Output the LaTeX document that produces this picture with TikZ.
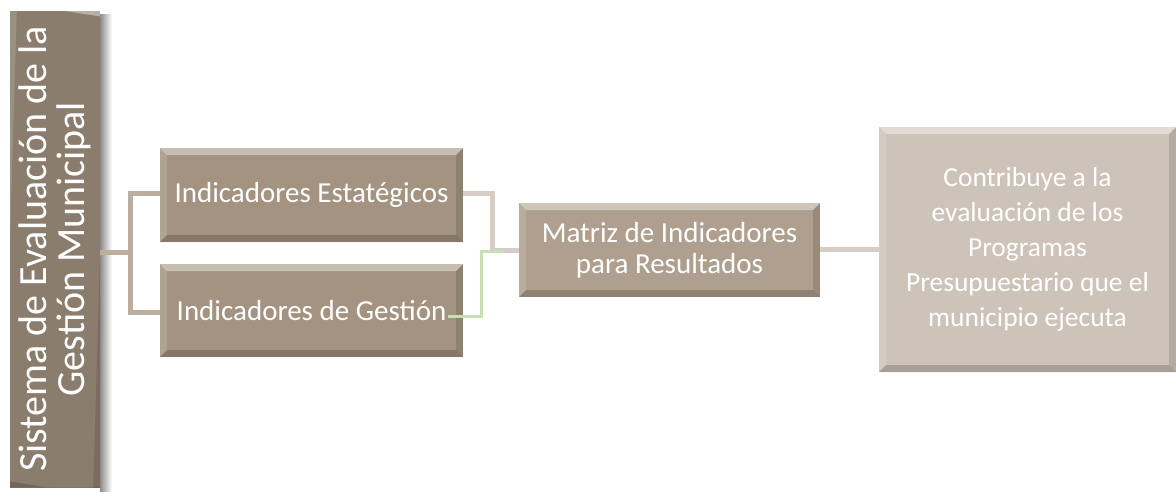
\documentclass[tikz,border=0pt]{standalone}
\usepackage{fontspec}
\setmainfont{Carlito}
\definecolor{cLeft}{HTML}{8B7D6D}
\definecolor{cMid}{HTML}{A39380}
\definecolor{cMat}{HTML}{AE9F8E}
\definecolor{cRight}{HTML}{CDC3B8}
\definecolor{cConnA}{HTML}{BBAE9F}
\definecolor{cConnB}{HTML}{D6CEC6}
\definecolor{cGreen}{HTML}{C6E0B4}
\tikzset{
  bevel/.style={path picture={
    \fill[white,opacity=0.4] (path picture bounding box.north west) -- (path picture bounding box.north east) -- ([xshift=-#1,yshift=-#1]path picture bounding box.north east) -- ([xshift=#1,yshift=-#1]path picture bounding box.north west) -- cycle;
    \fill[white,opacity=0.15] (path picture bounding box.north west) -- (path picture bounding box.south west) -- ([xshift=#1,yshift=#1]path picture bounding box.south west) -- ([xshift=#1,yshift=-#1]path picture bounding box.north west) -- cycle;
    \fill[black,opacity=0.18] (path picture bounding box.south west) -- (path picture bounding box.south east) -- ([xshift=-#1,yshift=#1]path picture bounding box.south east) -- ([xshift=#1,yshift=#1]path picture bounding box.south west) -- cycle;
    \fill[black,opacity=0.12] (path picture bounding box.north east) -- (path picture bounding box.south east) -- ([xshift=-#1,yshift=#1]path picture bounding box.south east) -- ([xshift=-#1,yshift=-#1]path picture bounding box.north east) -- cycle;
  }},
  box/.style={draw=none, rectangle, inner sep=0pt, text=white, align=center, bevel=7pt},
  conn/.style={line width=5pt, cConnA},
  connr/.style={line width=5pt, cConnB},
  conng/.style={line width=3pt, cGreen},
}
\begin{document}
\begin{tikzpicture}[x=1pt,y=-1pt]
\useasboundingbox[fill=white] (0,0) rectangle (1176,493);
% shadow of the tall box
\shade[left color=black!45, right color=white] (100,14) rectangle (112,491);
% left tall box
\node[box, fill=cLeft, minimum width=477pt, minimum height=90pt, rotate=90,
      font=\fontsize{40}{38}\selectfont] (L) at (55,249)
  {Sistema de Evaluación de la\\Gestión Municipal};
% middle boxes
\node[box, fill=cMid, minimum width=303pt, minimum height=94pt,
      font=\fontsize{29}{35}\selectfont] (E) at (311.5,195)
  {Indicadores Estatégicos};
\node[box, fill=cMid, minimum width=303pt, minimum height=93pt,
      font=\fontsize{29}{35}\selectfont] (G) at (311.5,310.5)
  {Indicadores de Gestión};
% matrix
\node[box, fill=cMat, minimum width=301pt, minimum height=94pt,
      font=\fontsize{29}{31}\selectfont] (M) at (669.5,250)
  {Matriz de Indicadores\\para Resultados};
% right box
\node[box, fill=cRight, minimum width=297pt, minimum height=245pt,
      font=\fontsize{27.5}{35}\selectfont] (R) at (1027.5,249.5)
  {Contribuye a la\\evaluación de los\\Programas\\Presupuestario que el\\municipio ejecuta};
% connectors
\coordinate (j1) at (130,252);
\coordinate (j2) at (492,250);
\coordinate (g0) at (448,316);
\coordinate (g1) at (481,251);
\coordinate (g2) at (504,251);
\draw[conn] (L.south |- j1) -- (j1);
\draw[conn] ([yshift=2pt]E.west) -| (j1) |- ([yshift=-1.5pt]G.west);
\draw[connr] ([yshift=2pt]E.east) -| (j2) -- (M.west |- j2);
\draw[conng] (g0) -| (g1) -- (g2);
\draw[connr] (M.east |- 0,249) -- (R.west |- 0,249);
\end{tikzpicture}
\end{document}
